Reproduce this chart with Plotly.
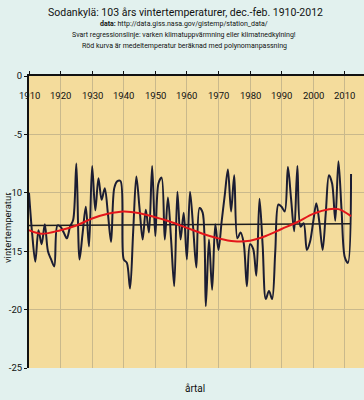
import plotly.graph_objects as go

years = list(range(1910, 2013))
temps = [
    -10.0, -13.5, -15.9, -13.2, -14.4, -12.7, -15.0, -15.7, -16.3, -12.8,
    -12.9, -13.4, -13.9, -12.9, -12.3, -7.5, -15.7, -13.4, -11.2, -14.6,
    -7.7, -11.5, -8.75, -10.6, -9.6, -11.8, -14.2, -9.6, -9.0, -9.0,
    -15.7, -16.0, -18.2, -13.3, -8.6, -11.3, -14.0, -11.45, -13.4, -7.7,
    -13.7, -9.2, -8.7, -14.0, -10.4, -14.0, -18.0, -9.9, -14.0, -11.7,
    -15.7, -9.9, -13.0, -16.4, -11.3, -11.7, -19.7, -14.0, -18.3, -12.7,
    -14.9, -12.5, -10.2, -8.0, -11.6, -8.5, -13.9, -13.4, -14.3, -18.0,
    -14.4, -14.8, -17.1, -10.5, -14.5, -19.1, -18.4, -19.1, -15.0, -11.0,
    -11.2, -11.6, -7.8, -10.5, -13.3, -7.7, -12.9, -12.6, -14.9, -14.2,
    -12.5, -10.9, -12.6, -14.9, -11.7, -8.5, -9.2, -12.4, -7.3, -11.5,
    -15.5, -16.0, -8.4,
]

# red polynomial curve
poly_years = [1910, 1914, 1920, 1925, 1930, 1935, 1940, 1945, 1950, 1955, 1960,
              1965, 1970, 1975, 1980, 1985, 1990, 1995, 2000, 2005, 2008, 2012]
poly_vals = [-13.2, -13.5, -13.2, -12.8, -12.2, -11.8, -11.6, -11.75, -12.1, -12.5, -13.0,
             -13.5, -13.9, -14.15, -14.1, -13.7, -13.1, -12.5, -11.8, -11.4, -11.4, -12.0]

# black regression line
reg_years = [1910, 2012]
reg_vals = [-12.8, -12.65]

x_ticks = list(range(1910, 2011, 10))
x_tick_labels = [str(v) for v in x_ticks]
y_ticks = [0, -5, -10, -15, -20, -25]
y_tick_labels = [str(v) for v in y_ticks]

FONT = "Roboto, Liberation Sans, Arial, sans-serif"
INK = "#111111"

fig = go.Figure()
fig.add_trace(go.Scatter(x=reg_years, y=reg_vals, mode="lines",
                         line=dict(color="#1c1c1c", width=1.6), hoverinfo="skip"))
fig.add_trace(go.Scatter(x=years, y=temps, mode="lines",
                         line=dict(color="#1b1d33", width=2, shape="spline", smoothing=0.9)))
fig.add_trace(go.Scatter(x=poly_years, y=poly_vals, mode="lines",
                         line=dict(color="#e3161b", width=2, shape="spline")))

PLOT_TOP, PLOT_BOTTOM, PLOT_LEFT, PLOT_W = 76, 368, 29, 335
def py(pix):
    return (PLOT_BOTTOM - pix) / (PLOT_BOTTOM - PLOT_TOP)
def px(pix):
    return (pix - PLOT_LEFT) / PLOT_W

annotations = [
    dict(text="Sodankylä: 103 års vintertemperaturer, dec.-feb. 1910-2012",
         xref="paper", yref="paper", x=px(185), y=py(12),
         xanchor="center", yanchor="middle", showarrow=False,
         font=dict(size=10.5, family=FONT, color=INK)),
    dict(text="<b>data:</b> http://data.giss.nasa.gov/gistemp/station_data/",
         xref="paper", yref="paper", x=px(184), y=py(24.5),
         xanchor="center", yanchor="middle", showarrow=False,
         font=dict(size=7, family=FONT, color=INK)),
    dict(text="Svart regressionslinje: varken klimatuppvärmning eller klimatnedkylning!",
         xref="paper", yref="paper", x=px(184), y=py(35),
         xanchor="center", yanchor="middle", showarrow=False,
         font=dict(size=7, family=FONT, color=INK)),
    dict(text="Röd kurva är medeltemperatur beräknad med polynomanpassning",
         xref="paper", yref="paper", x=px(184), y=py(45.5),
         xanchor="center", yanchor="middle", showarrow=False,
         font=dict(size=7, family=FONT, color=INK)),
    dict(text="årtal", xref="paper", yref="paper", x=px(195), y=py(388),
         xanchor="center", yanchor="middle", showarrow=False,
         font=dict(size=10, family=FONT, color=INK)),
    dict(text="vintertemperatur", xref="paper", yref="paper", x=px(7), y=py(228),
         xanchor="center", yanchor="middle", showarrow=False, textangle=-90,
         font=dict(size=9.5, family=FONT, color=INK)),
]
# x tick labels drawn inside the plot, just below the top axis
for v, lab in zip(x_ticks, x_tick_labels):
    annotations.append(dict(text=lab, xref="x", yref="paper", x=v, y=py(95),
                            xanchor="center", yanchor="middle", showarrow=False,
                            font=dict(size=9.5, family=FONT, color=INK)))

fig.update_layout(
    width=364, height=400,
    margin=dict(l=29, r=0, t=76, b=32),
    paper_bgcolor="#e2f1ee",
    plot_bgcolor="#f4dc9c",
    showlegend=False,
    font=dict(family=FONT, color=INK),
    xaxis=dict(
        range=[1910, 2016.1], side="top",
        tickmode="array", tickvals=x_ticks, ticktext=x_tick_labels,
        showticklabels=False,
        ticks="outside", ticklen=3, tickcolor=INK, tickwidth=1,
        showgrid=True, gridcolor="#c9b98c", gridwidth=1,
        showline=True, linecolor=INK, linewidth=2,
        zeroline=False,
    ),
    yaxis=dict(
        range=[-25, 0],
        tickmode="array", tickvals=y_ticks, ticktext=y_tick_labels,
        ticks="outside", ticklen=3, tickcolor=INK,
        tickfont=dict(size=9.5, family=FONT, color=INK),
        showgrid=True, gridcolor="#c9b98c", gridwidth=1,
        showline=True, linecolor=INK, linewidth=2,
        zeroline=False,
    ),
    annotations=annotations,
)

fig.write_html(
    "out.html",
    config={"displayModeBar": False},
    post_script="document.body.style.margin='0';document.body.style.overflow='hidden';",
)
